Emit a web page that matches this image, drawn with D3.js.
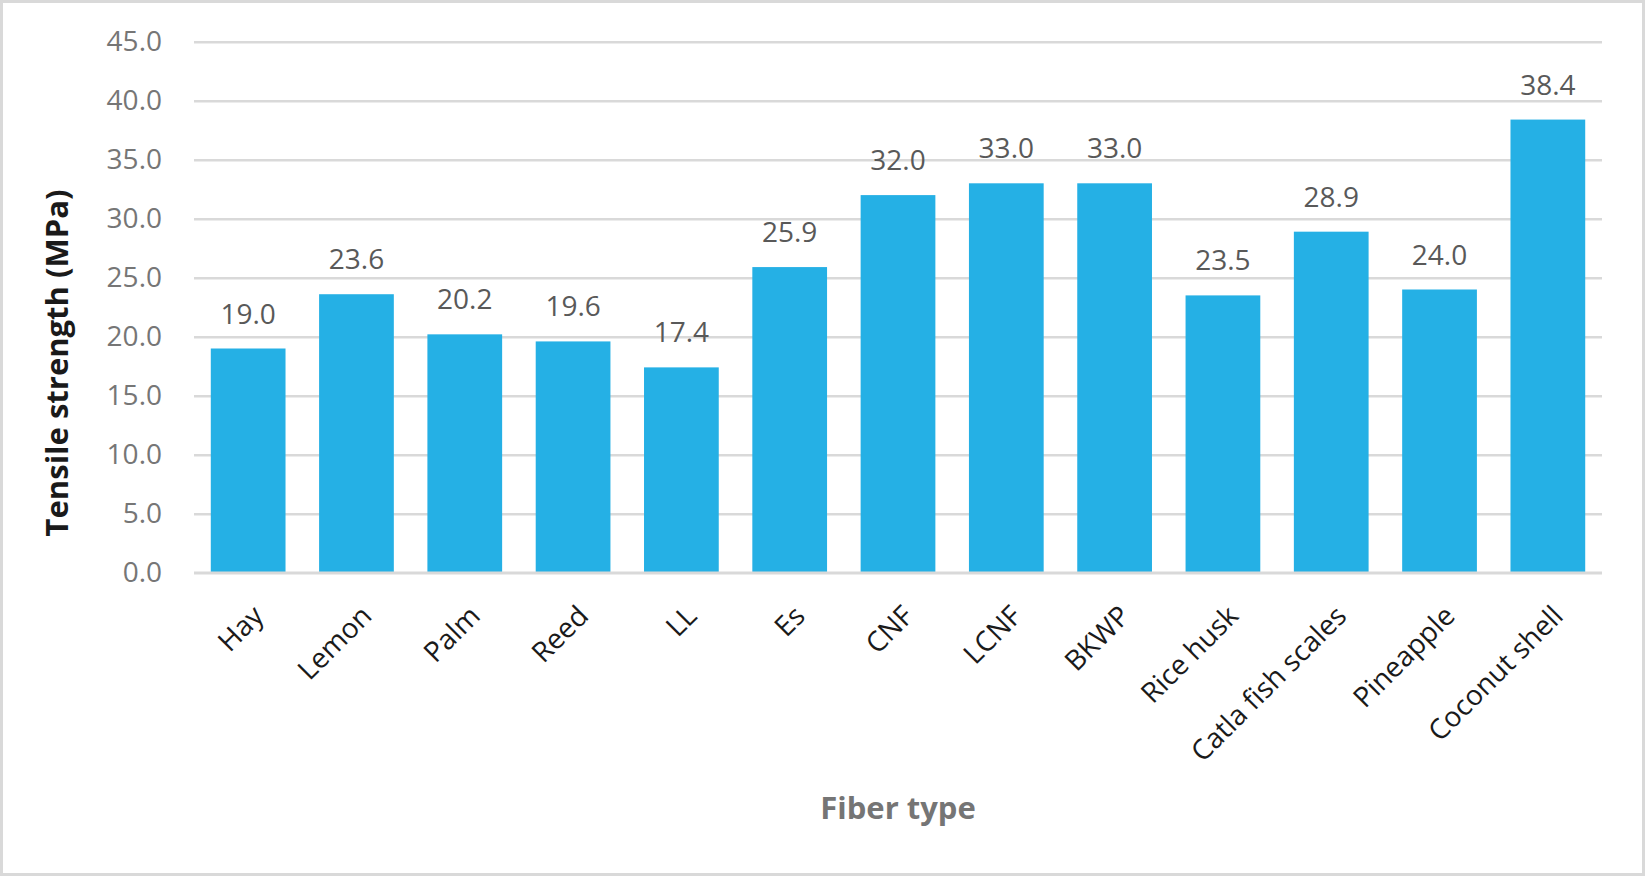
<!DOCTYPE html>
<html>
<head>
<meta charset="utf-8">
<script src="https://cdn.jsdelivr.net/npm/d3@7"></script>
<style>
  html, body { margin: 0; padding: 0; background: #fff; }
  svg { display: block; font-family: "Open Sans", "DejaVu Sans", sans-serif; }
</style>
</head>
<body>
<div id="chart"></div>
<script>
// fiber types and their tensile strength (MPa)
const fibers = ["Hay", "Lemon", "Palm", "Reed", "LL", "Es", "CNF", "LCNF", "BKWP",
  "Rice husk", "Catla fish scales", "Pineapple", "Coconut shell"];
const strength = [19.0, 23.6, 20.2, 19.6, 17.4, 25.9, 32.0, 33.0, 33.0, 23.5, 28.9, 24.0, 38.4];
const yTicks = [0, 5, 10, 15, 20, 25, 30, 35, 40, 45];

const W = 1645, H = 876;
const plot = { left: 194, right: 1602, top: 41.7, bottom: 572.7 };
const FONT = '"Open Sans", "DejaVu Sans", sans-serif';

const svg = d3.select("#chart").append("svg")
  .attr("width", W)
  .attr("height", H);

// outer frame
svg.append("rect")
  .attr("x", 1.5).attr("y", 1.5)
  .attr("width", W - 3).attr("height", H - 3)
  .attr("fill", "#fff")
  .attr("stroke", "#d9d9d9")
  .attr("stroke-width", 3);

const data = fibers.map((f, i) => ({ fiber: f, value: strength[i] }));

const x = d3.scaleBand()
  .domain(fibers)
  .range([plot.left, plot.right])
  .paddingInner(0.31)
  .paddingOuter(0.155);

const y = d3.scaleLinear()
  .domain([0, 45])
  .range([plot.bottom, plot.top]);

// gridlines + y labels
const yAxis = svg.append("g")
  .attr("transform", `translate(${plot.left},0)`)
  .call(d3.axisLeft(y)
    .tickValues(yTicks)
    .tickFormat(d3.format(".1f"))
    .tickSize(-(plot.right - plot.left))
    .tickPadding(32))
  .attr("font-family", FONT)
  .attr("font-size", 28);
yAxis.select(".domain").remove();
yAxis.selectAll(".tick line")
  .attr("stroke", "#d9d9d9")
  .attr("stroke-width", 2.5);
yAxis.selectAll(".tick text")
  .attr("fill", "#767676");

// bars
svg.selectAll(".bar")
  .data(data)
  .join("rect")
  .attr("class", "bar")
  .attr("x", d => x(d.fiber))
  .attr("y", d => y(d.value))
  .attr("width", x.bandwidth())
  .attr("height", d => y(0) - y(d.value))
  .attr("fill", "#25b0e5");

// baseline
svg.append("line")
  .attr("x1", plot.left).attr("x2", plot.right)
  .attr("y1", y(0)).attr("y2", y(0))
  .attr("stroke", "#d9d9d9")
  .attr("stroke-width", 2.5);

// value labels
svg.selectAll(".val")
  .data(data)
  .join("text")
  .attr("class", "val")
  .attr("x", d => x(d.fiber) + x.bandwidth() / 2)
  .attr("y", d => y(d.value) - 25)
  .attr("text-anchor", "middle")
  .attr("fill", "#595959")
  .style("font-size", "28px")
  .text(d => d.value.toFixed(1));

// category labels, rotated
svg.selectAll(".cat")
  .data(fibers)
  .join("text")
  .attr("class", "cat")
  .attr("transform", d => `translate(${x(d) + x.bandwidth() / 2 + 17},${y(0) + 45}) rotate(-45)`)
  .attr("text-anchor", "end")
  .attr("fill", "#1a1a1a")
  .style("font-size", "28px")
  .text(d => d);

// axis titles
svg.append("text")
  .attr("transform", "translate(68,363) rotate(-90)")
  .attr("text-anchor", "middle")
  .attr("fill", "#1a1a1a")
  .style("font-size", "31px")
  .style("font-weight", "bold")
  .text("Tensile strength (MPa)");

svg.append("text")
  .attr("x", (plot.left + plot.right) / 2)
  .attr("y", 819)
  .attr("text-anchor", "middle")
  .attr("fill", "#757575")
  .style("font-size", "31px")
  .style("font-weight", "bold")
  .text("Fiber type");
</script>
</body>
</html>
